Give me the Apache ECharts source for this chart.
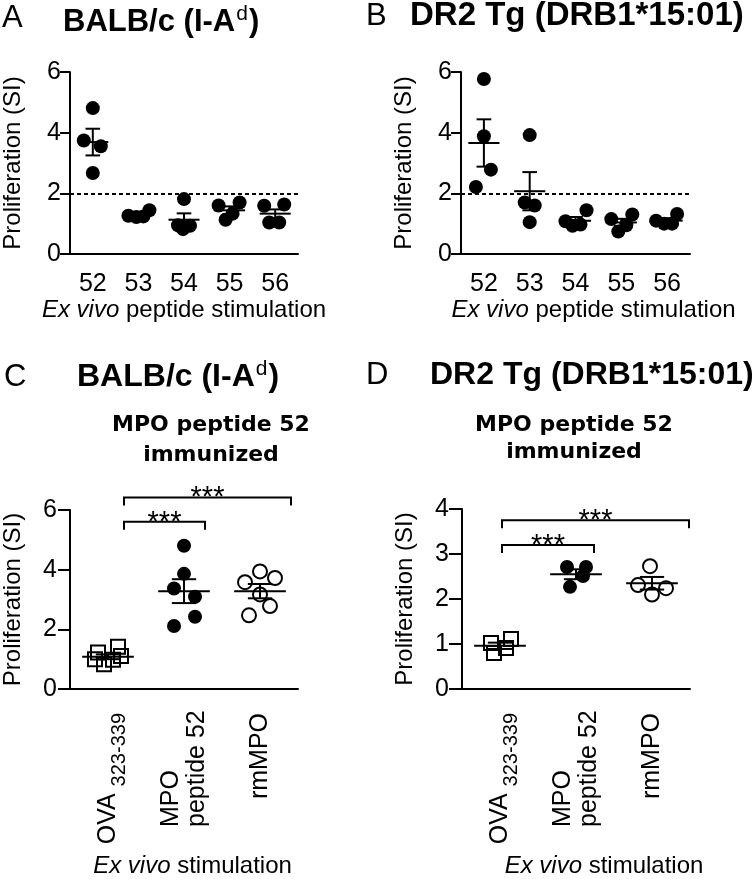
<!DOCTYPE html>
<html><head><meta charset="utf-8">
<script src="https://cdn.jsdelivr.net/npm/echarts@6/dist/echarts.min.js"></script>
<style>html,body{margin:0;padding:0;background:#fff}#c{width:756px;height:879px}</style>
</head><body><div id="c"></div>
<script>
// ================= DATA =================
const peptideCats = ['52', '53', '54', '55', '56'];
const balbValues = [[4.81, 3.74, 3.55, 2.67], [1.26, 1.22, 1.24, 1.44], [1.81, 0.95, 0.82, 0.93], [1.60, 1.70, 1.33, 1.13], [1.59, 1.63, 1.04, 1.04]];
const balbMean = [3.69, 1.29, 1.13, 1.44, 1.33];
const balbSEM = [0.44, 0.05, 0.21, 0.13, 0.14];
const dr2Values = [[5.77, 3.88, 2.78, 2.21], [3.92, 1.70, 1.60, 1.05], [1.08, 0.93, 0.97, 1.44], [1.15, 0.74, 0.95, 1.30], [1.10, 1.00, 1.00, 1.32]];
const dr2Mean = [3.66, 2.07, 1.10, 1.04, 1.10];
const dr2SEM = [0.78, 0.63, 0.12, 0.12, 0.08];
const stimCats = ['OVA 323-339', 'MPO peptide 52', 'rmMPO'];
const balbImmValues = [[1.22, 0.83, 1.00, 1.42, 1.11, 0.98], [4.80, 3.86, 3.37, 3.09, 2.42, 2.11], [3.94, 3.58, 3.72, 3.17, 2.78, 2.47]];
const balbImmMean = [1.08, 3.28, 3.28];
const balbImmSEM = [0.08, 0.40, 0.24];
const dr2ImmValues = [[1.02, 0.80, 0.91, 1.11], [2.71, 2.71, 2.51, 2.27], [2.73, 2.31, 2.24, 2.10]];
const dr2ImmMean = [0.96, 2.55, 2.35];
const dr2ImmSEM = [0.07, 0.11, 0.14];
const threshold = 2;
const sigBalb = [[0, 1, 5.61, '***'], [0, 2, 6.42, '***']];
const sigDr2 = [[0, 1, 3.2, '***'], [0, 2, 3.75, '***']];

// ================= LAYOUT / STYLE =================
// horizontal jitter of the dots (px), as placed in the original
const jitA = [[0, -9, 8, 0], [-10, -2, 5, 11], [0, -6, -1, 6], [-11, 10, 3, -4], [-11, 9, -6, 4]];
const jitB = [[0, 0, 7, -8], [0, -5, 5, 0], [-10, -3, 5, 11], [-10, -3, 5, 11], [-11, -3, 5, 10]];
const jitC = [[-10, -4, -13, 10, 13, 5], [0, 0, -10, 11, 11, -10], [0, -15, 15, 0, 10, -11]];
const jitD = [[-9, -6, 6, 11], [-9, 10, 7, -6], [-2, -14, 14, 0]];
const bracketOffC = {start: 16, ends: [21, 31]};
const bracketOffD = {start: 2, ends: [18, 37]};
const FONT = '"Liberation Sans", Arial, sans-serif';
const BLACK = '#000';

const grids = [
  {left: 70, top: 72, width: 228, height: 182},
  {left: 461, top: 72, width: 229, height: 182},
  {left: 69, top: 510, width: 229, height: 181},
  {left: 462, top: 509, width: 228, height: 182}
];

function xPeptide(gi, padLeft) {
  return {
    gridIndex: gi, type: 'category', data: peptideCats, boundaryGap: true,
    axisLine: {lineStyle: {color: BLACK, width: 2}},
    axisTick: {alignWithLabel: true, length: 12, lineStyle: {color: BLACK, width: 2}},
    axisLabel: {fontSize: 25, color: BLACK, fontFamily: FONT, margin: 18},
    name: '{i|Ex vivo} peptide stimulation', nameLocation: 'middle', nameGap: 41,
    nameTextStyle: {fontSize: 24, color: BLACK, fontFamily: FONT, padding: [0, 0, 0, padLeft],
      rich: {i: {fontSize: 24, fontStyle: 'italic', color: BLACK, fontFamily: FONT}}}
  };
}
function xStim(gi, padLeft) {
  return {
    gridIndex: gi, type: 'category', data: stimCats, boundaryGap: true,
    axisLine: {lineStyle: {color: BLACK, width: 2}},
    axisTick: {alignWithLabel: true, length: 14, lineStyle: {color: BLACK, width: 2}},
    axisLabel: {
      rotate: 90, margin: 24, color: BLACK, fontFamily: FONT, fontSize: 25,
      formatter: function (v, idx) {
        if (idx === 0) { const p = v.split(' '); return '{n|' + p[0] + ' }{sub|' + p[1] + '}'; }
        if (idx === 1) { const p = v.split(' '); return '{w|' + p[0] + '}\n{w|' + p.slice(1).join(' ') + '}'; }
        return '{n|' + v + '}';
      },
      rich: {
        n: {fontSize: 25, lineHeight: 28, fontFamily: FONT, color: BLACK},
        sub: {fontSize: 20, lineHeight: 20, padding: [22, 0, 0, 0], fontFamily: FONT, color: BLACK},
        w: {fontSize: 25, lineHeight: 26, width: 114, align: 'left', fontFamily: FONT, color: BLACK}
      }
    },
    name: '{i|Ex vivo} stimulation', nameLocation: 'middle', nameGap: 165,
    nameTextStyle: {fontSize: 24, color: BLACK, fontFamily: FONT, padding: [0, 0, 0, padLeft],
      rich: {i: {fontSize: 24, fontStyle: 'italic', color: BLACK, fontFamily: FONT}}}
  };
}
function yProl(gi, max, interval, tickLen, margin) {
  return {
    gridIndex: gi, type: 'value', min: 0, max: max, interval: interval,
    axisLine: {show: true, lineStyle: {color: BLACK, width: 2}},
    axisTick: {show: true, length: tickLen, lineStyle: {color: BLACK, width: 2}},
    axisLabel: {fontSize: 25, color: BLACK, fontFamily: FONT, margin: margin},
    splitLine: {show: false},
    name: 'Proliferation (SI)', nameLocation: 'middle', nameGap: 45,
    nameTextStyle: {fontSize: 24, color: BLACK, fontFamily: FONT}
  };
}

function scatter(gi, values, jit, kind, withThreshold) {
  const data = [];
  values.forEach(function (grp, i) {
    grp.forEach(function (v, j) {
      data.push({value: [i, v], symbolOffset: [jit[i][j], 0]});
    });
  });
  let itemStyle, symbol = 'circle', size = 14;
  if (kind === 'filled') itemStyle = {color: BLACK, opacity: 1};
  else if (kind === 'open') itemStyle = {color: '#fff', borderColor: BLACK, borderWidth: 2, opacity: 1};
  else { symbol = 'rect'; size = 14; itemStyle = {color: 'rgba(255,255,255,0)', borderColor: BLACK, borderWidth: 2, opacity: 1}; }
  if (gi < 2) size = 14;
  const s = {
    type: 'scatter', xAxisIndex: gi, yAxisIndex: gi, data: data, symbol: symbol, symbolSize: size,
    itemStyle: itemStyle, z: 2, silent: true
  };
  if (withThreshold) {
    s.markLine = {silent: true, symbol: 'none', label: {show: false},
      lineStyle: {color: BLACK, width: 2, type: [4, 3], opacity: 1}, data: [{yAxis: threshold}]};
  }
  return s;
}

function errorBars(gi, mean, sem) {
  return {
    type: 'custom', xAxisIndex: gi, yAxisIndex: gi, z: 5, silent: true,
    data: mean.map(function (m, i) { return [i, m, sem[i]]; }),
    encode: {x: 0, y: 1},
    renderItem: function (params, api) {
      const x = api.value(0), m = api.value(1), s = api.value(2);
      const c = api.coord([x, m]), t = api.coord([x, m + s]), b = api.coord([x, m - s]);
      const bw = api.size([1, 0])[0];
      const st = {stroke: BLACK, lineWidth: 2, fill: null};
      return {type: 'group', children: [
        {type: 'line', shape: {x1: c[0] - 0.34 * bw, y1: c[1], x2: c[0] + 0.34 * bw, y2: c[1]}, style: st},
        {type: 'line', shape: {x1: c[0], y1: t[1], x2: c[0], y2: b[1]}, style: st},
        {type: 'line', shape: {x1: c[0] - 0.16 * bw, y1: t[1], x2: c[0] + 0.16 * bw, y2: t[1]}, style: st},
        {type: 'line', shape: {x1: c[0] - 0.16 * bw, y1: b[1], x2: c[0] + 0.16 * bw, y2: b[1]}, style: st}
      ]};
    }
  };
}

function brackets(gi, sig, off) {
  return {
    type: 'custom', xAxisIndex: gi, yAxisIndex: gi, z: 5, silent: true, clip: false,
    data: sig.map(function (s, k) { return [s[0], s[1], s[2], k]; }),
    encode: {x: 0, y: 2},
    renderItem: function (params, api) {
      const from = api.value(0), to = api.value(1), y = api.value(2), k = api.value(3);
      const p1 = api.coord([from, y]), p2 = api.coord([to, y]);
      const x1 = p1[0] + off.start, x2 = p2[0] + off.ends[k], yy = p1[1];
      return {type: 'group', children: [
        {type: 'polyline', shape: {points: [[x1, yy + 8], [x1, yy], [x2, yy], [x2, yy + 8]]},
          style: {stroke: BLACK, lineWidth: 2, fill: null}},
        {type: 'text', x: (x1 + x2) / 2, y: yy + 1,
          style: {text: sig[k][3], fill: BLACK, font: '29px ' + FONT, align: 'center', verticalAlign: 'middle'}}
      ]};
    }
  };
}

function titleText(x, y, size, main, sup) {
  const rich = {
    b: {fontSize: size, fontWeight: 'bold', fontFamily: FONT, lineHeight: size + 4, fill: BLACK},
    s: {fontSize: 21, fontWeight: 'normal', fontFamily: FONT, lineHeight: 21, padding: [0, 1, 16, 1], fill: BLACK}
  };
  const txt = sup ? '{b|' + main + '}{s|' + sup + '}{b|)}' : '{b|' + main + '}';
  return {type: 'text', x: x, y: y, style: {text: txt, rich: rich, fill: BLACK, verticalAlign: 'middle', align: 'left'}};
}
function letter(x, y, t) {
  return {type: 'text', x: x, y: y, style: {text: t, font: '31px ' + FONT, fill: BLACK, verticalAlign: 'middle', align: 'left'}};
}
function subTitle(cx, y, t) {
  return {type: 'text', x: cx, y: y, style: {text: t, font: 'bold 22px "DejaVu Sans", sans-serif', fill: BLACK, verticalAlign: 'middle', align: 'center'}};
}

const option = {
  animation: false,
  backgroundColor: '#fff',
  textStyle: {fontFamily: FONT},
  grid: grids,
  xAxis: [xPeptide(0, 0), xPeptide(1, 36), xStim(2, 17), xStim(3, 56)],
  yAxis: [yProl(0, 6, 2, 10, 9), yProl(1, 6, 2, 10, 9), yProl(2, 6, 2, 12, 13), yProl(3, 4, 1, 13, 13)],
  series: [
    scatter(0, balbValues, jitA, 'filled', true),
    errorBars(0, balbMean, balbSEM),
    scatter(1, dr2Values, jitB, 'filled', true),
    errorBars(1, dr2Mean, dr2SEM),
    scatter(2, [balbImmValues[0]], [jitC[0]], 'square', false),
    scatter(2, [[], balbImmValues[1]], [[], jitC[1]], 'filled', false),
    scatter(2, [[], [], balbImmValues[2]], [[], [], jitC[2]], 'open', false),
    errorBars(2, balbImmMean, balbImmSEM),
    brackets(2, sigBalb, bracketOffC),
    scatter(3, [dr2ImmValues[0]], [jitD[0]], 'square', false),
    scatter(3, [[], dr2ImmValues[1]], [[], jitD[1]], 'filled', false),
    scatter(3, [[], [], dr2ImmValues[2]], [[], [], jitD[2]], 'open', false),
    errorBars(3, dr2ImmMean, dr2ImmSEM),
    brackets(3, sigDr2, bracketOffD)
  ],
  graphic: [
    letter(2, 18, 'A'),
    titleText(63, 22, 31, 'BALB/c (I-A', 'd'),
    letter(366, 16, 'B'),
    titleText(410, 16, 33, 'DR2 Tg (DRB1*15:01)', null),
    letter(4, 377, 'C'),
    titleText(77, 377, 32, 'BALB/c (I-A', 'd'),
    letter(366, 375, 'D'),
    titleText(430, 375, 32, 'DR2 Tg (DRB1*15:01)', null),
    subTitle(211, 425, 'MPO peptide 52'),
    subTitle(211, 455, 'immunized'),
    subTitle(574, 425, 'MPO peptide 52'),
    subTitle(574, 452, 'immunized')
  ]
};
const chart = echarts.init(document.getElementById('c'), null, {renderer: 'canvas'});
chart.setOption(option);
</script></body></html>
